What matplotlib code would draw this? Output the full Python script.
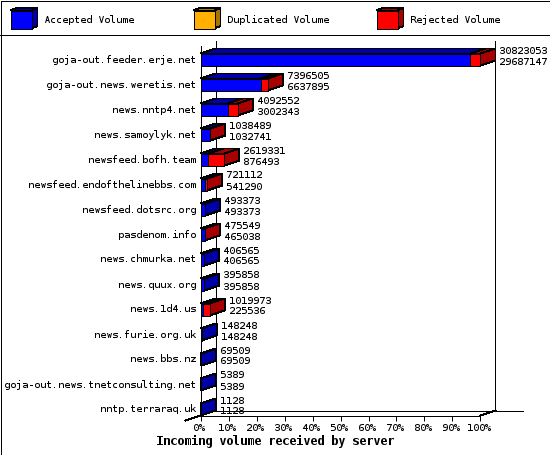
import matplotlib
matplotlib.use('Agg')
import matplotlib.pyplot as plt
from matplotlib.patches import Polygon, Rectangle
from matplotlib.transforms import Affine2D

plt.rcParams['font.family'] = 'DejaVu Sans Mono'
plt.rcParams['text.hinting'] = 'native'
plt.rcParams['text.hinting_factor'] = 1

servers = ['goja-out.feeder.erje.net', 'goja-out.news.weretis.net', 'news.nntp4.net',
           'news.samoylyk.net', 'newsfeed.bofh.team', 'newsfeed.endofthelinebbs.com',
           'newsfeed.dotsrc.org', 'pasdenom.info', 'news.chmurka.net', 'news.quux.org',
           'news.1d4.us', 'news.furie.org.uk', 'news.bbs.nz',
           'goja-out.news.tnetconsulting.net', 'nntp.terraraq.uk']
total = [30823053, 7396505, 4092552, 1038489, 2619331, 721112, 493373, 475549,
         406565, 395858, 1019973, 148248, 69509, 5389, 1128]
accepted = [29687147, 6637895, 3002343, 1032741, 876493, 541290, 493373, 465038,
            406565, 395858, 225536, 148248, 69509, 5389, 1128]
legend_names = ['Accepted Volume', 'Duplicated Volume', 'Rejected Volume']
legend_front = ['#0000ff', '#ffb000', '#ff0000']
legend_dark = ['#0000a8', '#a87400', '#a80000']
pct_ticks = list(range(0, 101, 10))

W, H = 550, 455
LW = 0.72  # one pixel at dpi 100

# depth of the 3d look, in data units (15 px right, 5 px up)
DX = 15 / 2.8
DY = 5 / 25


def poly(ax, pts, color, z=2):
    ax.add_patch(Polygon(pts, closed=True, facecolor=color, edgecolor='black', linewidth=LW,
                         antialiased=False, clip_on=False, zorder=z))


def box3d(ax, x0, x1, y0, y1, front, dark, z, dx=DX, dy=DY):
    # top, side, then front (y axis points down)
    poly(ax, [(x0, y0), (x0 + dx, y0 - dy), (x1 + dx, y0 - dy), (x1, y0)], dark, z)
    poly(ax, [(x1, y0), (x1 + dx, y0 - dy), (x1 + dx, y1 - dy), (x1, y1)], dark, z)
    poly(ax, [(x0, y0), (x1, y0), (x1, y1), (x0, y1)], front, z)


fig = plt.figure(figsize=(W / 100, H / 100), dpi=100, facecolor='white')

# page layer in pixel coordinates: border and legend
page = fig.add_axes([0, 0, 1, 1])
page.set_xlim(0, W)
page.set_ylim(H, 0)
page.axis('off')
page.add_patch(Rectangle((0.5, 0.5), W - 1, H - 1, fill=False, edgecolor='black', linewidth=LW,
                         antialiased=False))
page.plot([0, W], [35.0, 35.0], color='black', lw=LW, antialiased=False)
for lx, name, c, d in zip([10.5, 193.5, 376.5], legend_names, legend_front, legend_dark):
    box3d(page, lx, lx + 21, 10.5, 28.5, c, d, 3, dx=6, dy=2.5)
    page.text(lx + 33.5, 20, name, fontsize=7.2, ha='left', va='center')

# plot area: front plane runs 200..480 px across, rows are 25 px apart
top_px, bot_px = 45.5, 415.5
ax = fig.add_axes([200.5 / W, 1 - bot_px / H, 280 / W, (bot_px - top_px) / H])
ax.set_xlim(0, 100)
ax.set_ylim((bot_px - 59.5) / 25, (top_px - 59.5) / 25)
ax.patch.set_alpha(0)
for s in ['top', 'right']:
    ax.spines[s].set_visible(False)
for s in ['left', 'bottom']:
    ax.spines[s].set_linewidth(LW)
    ax.spines[s].set_antialiased(False)

ymin, ymax = ax.get_ylim()
line_kw = dict(color='black', lw=LW, antialiased=False, clip_on=False, zorder=1)
# back wall, floor edge
ax.plot([DX, DX], [ymin - DY, ymax - DY], **line_kw)
ax.plot([100 + DX, 100 + DX], [ymin - DY, ymax - DY], **line_kw)
ax.plot([DX, 115.2], [ymin - DY, ymin - DY], **line_kw)
ax.plot([-DX, DX], [ymin + DY, ymin - DY], **line_kw)
ax.plot([100, 100 + DX], [ymin, ymin - DY], **line_kw)

max_total = max(total)
for i, (t, a) in enumerate(zip(total, accepted)):
    y0, y1 = i - 0.24, i + 0.24
    ta = a / max_total * 100
    tt = t / max_total * 100
    z = 3 + i
    if t > a:
        box3d(ax, ta, tt, y0, y1, '#ff0000', '#a80000', z)
        poly(ax, [(0, y0), (DX, y0 - DY), (ta + DX, y0 - DY), (ta, y0)], '#0000a8', z)
        poly(ax, [(0, y0), (ta, y0), (ta, y1), (0, y1)], '#0000ff', z)
    else:
        box3d(ax, 0, tt, y0, y1, '#0000ff', '#0000a8', z)
    lab_x = tt + DX + 4 / 2.8
    ax.text(lab_x, i - 0.36, str(t), fontsize=7.2, ha='left', va='center', zorder=30)
    ax.text(lab_x, i + 0.08, str(a), fontsize=7.2, ha='left', va='center', zorder=30)

ax.set_yticks(range(len(servers)))
ax.set_yticklabels(servers, fontsize=7.2)
ax.tick_params(axis='y', length=0, pad=3)
ax.set_xticks(pct_ticks)
ax.set_xticklabels(['%d%%' % p for p in pct_ticks], fontsize=7.2)
ax.tick_params(axis='x', length=3.6, width=LW, pad=1.5)

# nudge tick labels onto the reference's pixel rows
for lbl in ax.get_yticklabels():
    lbl.set_transform(lbl.get_transform() + Affine2D().translate(0, 1))
for lbl in ax.get_xticklabels():
    lbl.set_transform(lbl.get_transform() + Affine2D().translate(-1.5, 0))

page.text(275, 442, 'Incoming volume received by server', fontsize=8.4, fontweight='bold',
          ha='center', va='center')

fig.savefig('out.png', dpi=100)
